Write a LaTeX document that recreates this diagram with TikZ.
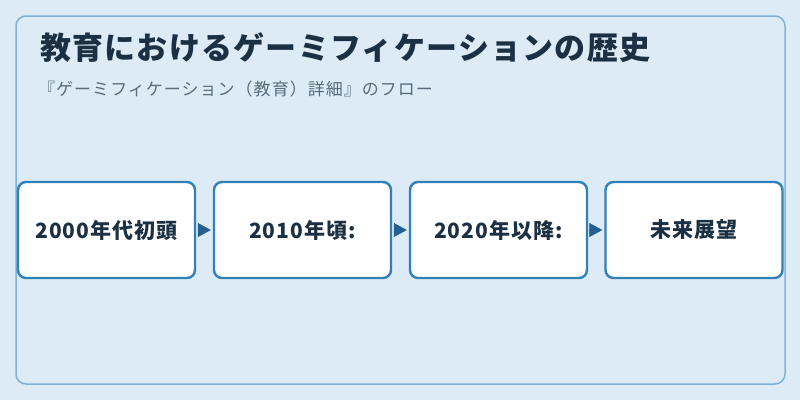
\documentclass[tikz,border=0pt]{standalone}
\usepackage{fontspec}
\setmainfont{Noto Sans CJK JP}
\usetikzlibrary{arrows.meta}
\definecolor{bg}{HTML}{DCEBF6}
\definecolor{frame}{HTML}{7FB2D6}
\definecolor{boxline}{HTML}{2F81B7}
\definecolor{ink}{HTML}{1B3042}
\definecolor{sub}{HTML}{5A6B7B}
\definecolor{arr}{HTML}{23608F}
\tikzset{
  stagebox/.style={draw=boxline, line width=2.4pt, fill=white, rounded corners=8pt,
    minimum width=177pt, minimum height=96pt, inner sep=0pt,
    font=\fontsize{21}{24}\selectfont\bfseries\addfontfeature{LetterSpace=5}, text=ink},
  flowarrow/.style={-{Triangle[length=13pt,width=14pt]}, arr, line width=0.5pt, shorten >=2pt, shorten <=2pt}
}
\begin{document}
\begin{tikzpicture}[x=1pt,y=-1pt]
\useasboundingbox (0,0) rectangle (800,400);
\fill[bg] (0,0) rectangle (800,400);
\draw[frame, line width=1.5pt, rounded corners=10pt, fill=bg] (16,16) rectangle (785,384);
\node[anchor=base west, inner sep=0pt, font=\fontsize{31}{34}\selectfont\bfseries\addfontfeature{LetterSpace=4}, text=ink] (title) at (40,59) {教育におけるゲーミフィケーションの歴史};
\node[anchor=base west, inner sep=0pt, font=\fontsize{17}{20}\selectfont\addfontfeature{LetterSpace=6}, text=sub] (subtitle) at (38,95) {『ゲーミフィケーション（教育）詳細』のフロー};
\node[stagebox] (s1) at (106.5,230) {2000年代初頭};
\node[stagebox] (s2) at (302.5,230) {2010年頃:};
\node[stagebox] (s3) at (498.5,230) {2020年以降:};
\node[stagebox] (s4) at (694,230) {未来展望};
\draw[flowarrow] (s1.east) -- (s2.west);
\draw[flowarrow] (s2.east) -- (s3.west);
\draw[flowarrow] (s3.east) -- (s4.west);
\end{tikzpicture}
\end{document}
